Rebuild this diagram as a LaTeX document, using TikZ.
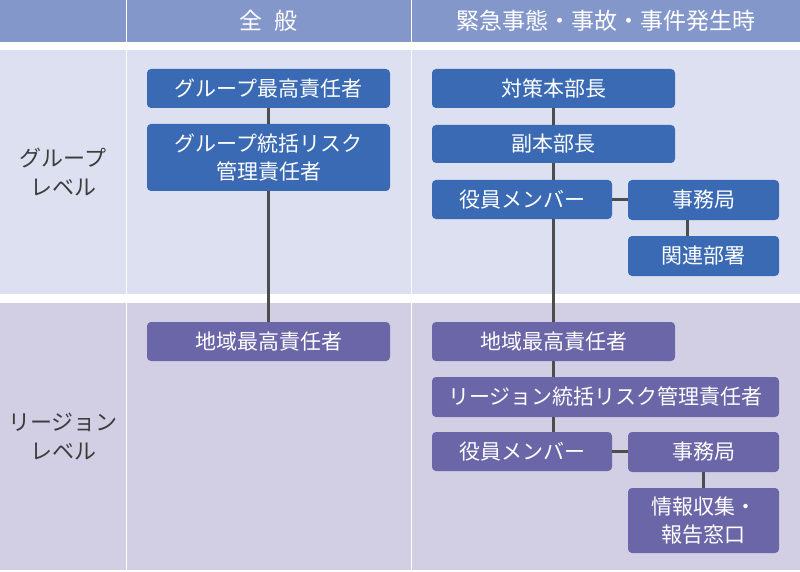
\documentclass[tikz,border=0pt]{standalone}
\usepackage{fontspec}
\setmainfont{Noto Sans CJK JP}
\usepackage{tikz}

\definecolor{headblue}{HTML}{8497CB}
\definecolor{bandblue}{HTML}{DDE0F0}
\definecolor{bandpurple}{HTML}{D2CEE4}
\definecolor{boxblue}{HTML}{3A6AB3}
\definecolor{boxpurple}{HTML}{6B66A8}
\definecolor{linegray}{HTML}{4D4D4D}
\definecolor{labelgray}{HTML}{3C3C3C}

\begin{document}
\begin{tikzpicture}[x=1pt, y=-1pt,
  font=\fontsize{21}{27.5}\selectfont,
  gbox/.style={fill=boxblue, text=white, rounded corners=4pt, align=center, inner sep=0pt},
  rbox/.style={gbox, fill=boxpurple},
  wide/.style={minimum width=243pt},
  short/.style={minimum width=180pt},
  small/.style={minimum width=151pt},
  link/.style={draw=linegray, line width=2.5pt},
  head/.style={text=white, font=\fontsize{23}{27}\selectfont},
  level/.style={text=labelgray, align=center, font=\fontsize{22}{29}\selectfont}]
\useasboundingbox (0,0) rectangle (800,572);
\fill [white] (0,0) rectangle (800,572);
% header
\fill [headblue] (0,0) rectangle (125.5,42);
\fill [headblue] (127,0) rectangle (410.5,42);
\fill [headblue] (412,0) rectangle (800,42);
% group band
\fill [bandblue] (0,50) rectangle (125.5,293.5);
\fill [bandblue] (127,50) rectangle (410.5,293.5);
\fill [bandblue] (412,50) rectangle (800,293.5);
% region band
\fill [bandpurple] (0,303) rectangle (125.5,570);
\fill [bandpurple] (127,303) rectangle (410.5,570);
\fill [bandpurple] (412,303) rectangle (800,570);

\node [head] (hgen) at (268.5,21) {全\hspace{0.5em}般};
\node [head] (hemg) at (606,21) {緊急事態・事故・事件発生時};
\node [level] (lgroup) at (63,172) {グループ\\レベル};
\node [level] (lregion) at (63,437) {リージョン\\レベル};

% general
\node [gbox, wide, minimum height=39pt] (gtop) at (268.5,88.5) {グループ最高責任者};
\node [gbox, wide, minimum height=67pt] (grisk) at (268.5,157.5) {グループ統括リスク\\管理責任者};
\node [rbox, wide, minimum height=39pt] (gregion) at (268.5,341.5) {地域最高責任者};
\draw [link] (gtop) -- (grisk);
\draw [link] (grisk) -- (gregion);

% emergency, group level
\node [gbox, wide, minimum height=39pt] (chief) at (553.5,88.5) {対策本部長};
\node [gbox, wide, minimum height=38pt] (vice) at (553.5,144) {副本部長};
\node [gbox, short, minimum height=39pt] (board) at (522,199.5) {役員メンバー};
\node [gbox, small, minimum height=40pt] (office) at (703.5,200) {事務局};
\node [gbox, small, minimum height=40pt] (dept) at (703.5,256) {関連部署};

% emergency, region level
\node [rbox, wide, minimum height=39pt] (rchief) at (553.5,341.5) {地域最高責任者};
\node [rbox, minimum width=347pt, minimum height=40pt] (rrisk) at (605.5,397) {リージョン統括リスク管理責任者};
\node [rbox, short, minimum height=39pt] (rboard) at (522,451.5) {役員メンバー};
\node [rbox, small, minimum height=40pt] (roffice) at (703.5,452) {事務局};
\node [rbox, small, minimum height=65pt] (rdesk) at (703.5,520.5) {情報収集・\\報告窓口};

\draw [link] (chief) -- (vice);
\draw [link] (vice.south) -- (vice.south |- board.north);
\draw [link] (vice.south |- board.south) -- (rchief.north);
\draw [link] (rchief.south) -- (rchief.south |- rrisk.north);
\draw [link] (rchief.south |- rrisk.south) -- (rchief.south |- rboard.north);
\draw [link] (board.east) -- (board.east -| office.west);
\draw [link] ([xshift=-16pt]office.south) -- ([xshift=-16pt]dept.north);
\draw [link] (rboard.east) -- (rboard.east -| roffice.west);
\draw [link] (roffice) -- (rdesk);
\end{tikzpicture}
\end{document}
